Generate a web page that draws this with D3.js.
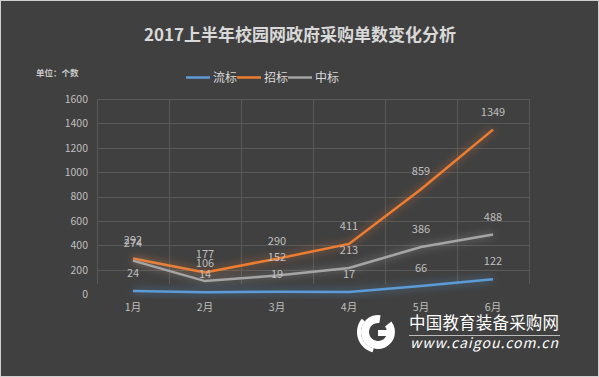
<!DOCTYPE html>
<html>
<head>
<meta charset="utf-8">
<script src="https://cdn.jsdelivr.net/npm/d3@7"></script>
<style>
  body { margin: 0; background: #404040; }
  svg { display: block; }
  text { font-family: "Noto Sans CJK SC", "Microsoft YaHei", sans-serif; }
</style>
</head>
<body>
<div id="chart"></div>
<script>
// data
let months = ["1月", "2月", "3月", "4月", "5月", "6月"];
let liubiao = [24, 14, 19, 17, 66, 122];
let zhaobiao = [292, 177, 290, 411, 859, 1349];
let zhongbiao = [274, 106, 152, 213, 386, 488];
let seriesNames = ["流标", "招标", "中标"];
let seriesColors = ["#5b9bd5", "#ed7d31", "#a5a5a5"];
let yTicks = [0, 200, 400, 600, 800, 1000, 1200, 1400, 1600];

let width = 599, height = 377;
let margin = {top: 99, right: 70, bottom: 83, left: 97};

let svg = d3.select("#chart").append("svg")
    .attr("width", width)
    .attr("height", height);

svg.append("rect")
    .attr("x", 0.5).attr("y", 0.5)
    .attr("width", width - 1).attr("height", height - 1)
    .attr("fill", "#404040")
    .attr("stroke", "#d0d0d0");

// glow filters
let defs = svg.append("defs");
seriesColors.forEach(function(c, i) {
    let f = defs.append("filter").attr("id", "glow" + i)
        .attr("x", "-20%").attr("y", "-50%").attr("width", "140%").attr("height", "200%");
    f.append("feGaussianBlur").attr("in", "SourceGraphic").attr("stdDeviation", 4).attr("result", "b");
    f.append("feComponentTransfer").attr("in", "b").attr("result", "b2")
        .append("feFuncA").attr("type", "linear").attr("slope", 0.7);
    let m = f.append("feMerge");
    m.append("feMergeNode").attr("in", "b2");
    m.append("feMergeNode").attr("in", "SourceGraphic");
});

let x = d3.scaleBand()
    .domain(months)
    .range([margin.left, width - margin.right]);
let y = d3.scaleLinear()
    .domain([0, 1600])
    .range([height - margin.bottom, margin.top]);

// title
svg.append("text")
    .attr("x", 300).attr("y", 41)
    .attr("text-anchor", "middle")
    .attr("fill", "#d9d9d9")
    .attr("font-size", 17)
    .attr("font-weight", "bold")
    .text("2017上半年校园网政府采购单数变化分析");

svg.append("text")
    .attr("x", 36).attr("y", 76)
    .attr("fill", "#c8c8c8")
    .attr("font-size", 8.5)
    .attr("font-weight", "bold")
    .text("单位：个数");

// legend
let legendX = [186, 237, 288];
seriesNames.forEach(function(n, i) {
    svg.append("line")
        .attr("x1", legendX[i]).attr("x2", legendX[i] + 24)
        .attr("y1", 77.5).attr("y2", 77.5)
        .attr("stroke", seriesColors[i]).attr("stroke-width", 2.5);
    svg.append("text")
        .attr("x", legendX[i] + 27).attr("y", 82)
        .attr("fill", "#d9d9d9")
        .attr("font-size", 12)
        .text(n);
});

// grid
svg.append("g").selectAll("line")
    .data(yTicks.slice(1)).enter().append("line")
    .attr("x1", margin.left).attr("x2", width - margin.right)
    .attr("y1", d => Math.round(y(d)) + 0.5).attr("y2", d => Math.round(y(d)) + 0.5)
    .attr("stroke", "#595959").attr("stroke-width", 1);
let vx = months.map(m => x(m)).concat([x.range()[1]]);
svg.append("g").selectAll("line")
    .data(vx).enter().append("line")
    .attr("x1", d => Math.round(d) + 0.5).attr("x2", d => Math.round(d) + 0.5)
    .attr("y1", y(1600)).attr("y2", y(80))
    .attr("stroke", "#595959").attr("stroke-width", 1);

// axes
let yAxis = svg.append("g")
    .attr("transform", "translate(" + (margin.left - 9) + ",0)")
    .call(d3.axisLeft(y).tickValues(yTicks).tickFormat(d3.format("d")).tickSize(0).tickPadding(0));
yAxis.select(".domain").remove();
yAxis.selectAll("text").attr("fill", "#bfbfbf").attr("font-size", 10.5)
    .attr("font-family", "\"Noto Sans CJK SC\", sans-serif");

let xAxis = svg.append("g")
    .attr("transform", "translate(0," + (height - margin.bottom) + ")")
    .call(d3.axisBottom(x).tickSize(0).tickPadding(10));
xAxis.select(".domain").remove();
xAxis.selectAll("text").attr("fill", "#bfbfbf").attr("font-size", 10.5)
    .attr("font-family", "\"Noto Sans CJK SC\", sans-serif");

// lines
let allSeries = [liubiao, zhaobiao, zhongbiao];
let line = d3.line()
    .x((d, i) => x(months[i]) + x.bandwidth() / 2)
    .y(d => y(d));

allSeries.forEach(function(s, i) {
    svg.append("path")
        .datum(s)
        .attr("d", line)
        .attr("fill", "none")
        .attr("stroke", seriesColors[i])
        .attr("stroke-width", 2.5)
        .attr("filter", "url(#glow" + i + ")");
});

allSeries.forEach(function(s, i) {
    svg.append("g").selectAll("text")
        .data(s).enter().append("text")
        .attr("x", (d, j) => x(months[j]) + x.bandwidth() / 2)
        .attr("y", d => y(d) - 14)
        .attr("text-anchor", "middle")
        .attr("fill", "#bfbfbf")
        .attr("font-size", 11)
        .text(d => d);
});

// watermark
let wm = svg.append("g").attr("transform", "translate(378,332)");
wm.append("path")
    .attr("d", d3.arc()({innerRadius: 9, outerRadius: 17, startAngle: 0.9, endAngle: 2 * Math.PI + 0.15}))
    .attr("fill", "#ffffff");
wm.append("rect").attr("x", 0).attr("y", -2).attr("width", 10).attr("height", 6).attr("fill", "#ffffff");
wm.append("path")
    .attr("d", d3.arc()({innerRadius: 17, outerRadius: 21, startAngle: 3.4, endAngle: 5.4}))
    .attr("fill", "#ffffff");

svg.append("text")
    .attr("x", 409).attr("y", 329)
    .attr("fill", "#ffffff")
    .attr("font-size", 16.5)
    .attr("textLength", 150)
    .text("中国教育装备采购网");
svg.append("line")
    .attr("x1", 409).attr("x2", 560)
    .attr("y1", 335.5).attr("y2", 335.5)
    .attr("stroke", "#bbbbbb").attr("stroke-width", 1);
svg.append("text")
    .attr("x", 410).attr("y", 348)
    .attr("fill", "#ffffff")
    .attr("font-size", 14)
    .attr("font-style", "italic")
    .attr("textLength", 148)
    .attr("font-family", "\"DejaVu Sans\", sans-serif")
    .text("www.caigou.com.cn");
</script>
</body>
</html>
